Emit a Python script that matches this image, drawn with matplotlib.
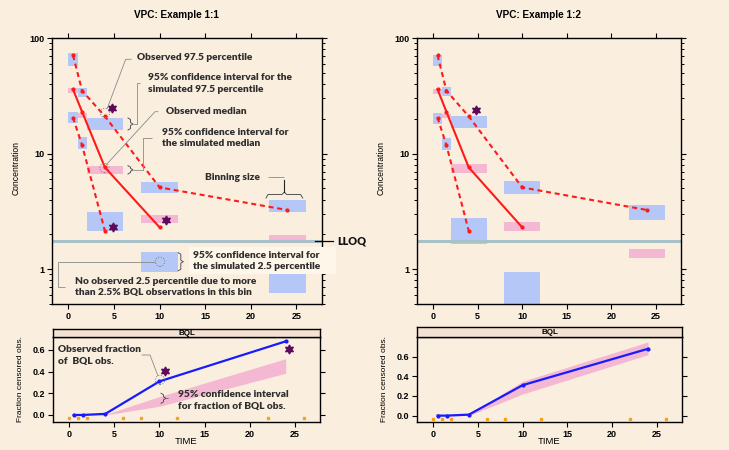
import numpy as np
import matplotlib
matplotlib.use("Agg")
import matplotlib.pyplot as plt
from matplotlib.ticker import LogLocator, NullFormatter, FixedLocator, FixedFormatter

plt.rcParams['font.family'] = ['Liberation Sans', 'DejaVu Sans']
plt.rcParams['font.weight'] = 'bold'

W, H = 729, 450

# ---- data ----
time = [0.5, 1.5, 4, 10, 24]
bin_lo = [0, 1, 2, 8, 22]
bin_hi = [1, 2, 6, 12, 26]
bin_edges = [0, 1, 2, 6, 8, 12, 22, 26]

obs_p975 = [71, 35, 21, 5.1, 3.25]
obs_p50 = [36, 23, 7.6, 2.3, np.nan]
obs_p025 = [20.5, 11.8, 2.15, np.nan, np.nan]
lloq = 1.74

# example 1:1 simulated CIs
ex1_p975_lo = [57.5, 31.0, 15.9, 4.58, 3.13]
ex1_p975_hi = [73.8, 37.3, 20.4, 5.67, 3.96]
ex1_p50_lo = [33.2, 20.2, 6.64, 2.52, 1.68]
ex1_p50_hi = [37.1, 22.3, 7.85, 2.92, 1.97]
ex1_p025_lo = [18.5, 10.9, 2.13, 0.95, 0.62]
ex1_p025_hi = [22.9, 14.0, 3.12, 1.41, 0.92]
ex1_out_x = [4.8, 10.7, 4.9]
ex1_out_y = [25, 2.65, 2.33]

# example 1:2 simulated CIs
ex2_p975_lo = [56.8, 31.6, 16.6, 4.46, 2.67]
ex2_p975_hi = [71.3, 37.9, 21.2, 5.8, 3.58]
ex2_p50_lo = [32.6, 20.4, 6.8, 2.14, 1.25]
ex2_p50_hi = [36.3, 22.0, 8.1, 2.57, 1.49]
ex2_p025_lo = [17.9, 10.7, 1.65, 0.3, np.nan]
ex2_p025_hi = [22.4, 13.6, 2.75, 0.95, np.nan]
ex2_out_x = [4.8]
ex2_out_y = [23.8]

# fraction BQL
frac_obs = [0, 0, 0.01, 0.31, 0.68]
ex1_frac_lo = [0, 0, 0, 0.08, 0.385]
ex1_frac_hi = [0, 0, 0.005, 0.17, 0.52]
ex1_frac_out_x = [10.6, 24.4]
ex1_frac_out_y = [0.41, 0.61]
ex2_frac_lo = [0, 0, 0, 0.22, 0.62]
ex2_frac_hi = [0, 0, 0.01, 0.35, 0.75]

# ---- colours ----
bg = '#FAEFDF'
c_blue_box = '#B4C7F6'
c_pink = '#F5B8D3'
c_red = '#FF1A1A'
c_blue = '#1A1AFF'
c_purple = '#5C0A5C'
c_lloq = '#A8C0C8'
c_orange = '#F5A21E'
c_strip = '#F3E1D3'
c_note = '#2E2E2E'
c_lead = '#8A8A8A'


def rect(l, t, r, b):
    return [l / W, 1 - b / H, (r - l) / W, (b - t) / H]


def boxes(ax, lo, hi, color):
    lo = np.array(lo, float)
    hi = np.array(hi, float)
    ok = ~np.isnan(lo)
    left = np.array(bin_lo)[ok]
    width = np.array(bin_hi)[ok] - left
    ax.bar(left, hi[ok] - lo[ok], bottom=lo[ok], width=width, align='edge',
           color=color, lw=0, zorder=1)


def conc_panel(ax, p975, p50, p025, out_x, out_y):
    ax.set_facecolor(bg)
    ax.set_yscale('log')
    boxes(ax, p975[0], p975[1], c_blue_box)
    boxes(ax, p025[0], p025[1], c_blue_box)
    boxes(ax, p50[0], p50[1], c_pink)
    ax.axhline(lloq, color=c_lloq, lw=2.2, zorder=2)
    dash = (0, (2.4, 1.8))
    ax.plot(time, obs_p975, color=c_red, lw=1.5, ls=dash, marker='o', ms=2, zorder=3)
    ax.plot(time, obs_p025, color=c_red, lw=1.5, ls=dash, marker='o', ms=2, zorder=3)
    ax.plot(time, obs_p50, color=c_red, lw=1.5, marker='o', ms=2, zorder=3)
    ax.plot(out_x, out_y, ls='none', marker=(6, 1, 0), ms=6.5, color=c_purple, zorder=4)
    ax.set_xlim(-1.8, 27.8)
    ax.set_ylim(0.5, 100)
    ax.yaxis.set_major_locator(FixedLocator([1, 10, 100]))
    ax.yaxis.set_major_formatter(FixedFormatter(['1', '10', '100']))
    ax.yaxis.set_minor_locator(LogLocator(base=10, subs=np.arange(2, 10)))
    ax.yaxis.set_minor_formatter(NullFormatter())
    ax.set_xticks([0, 5, 10, 15, 20, 25])
    ax.tick_params(direction='out', length=3.5, width=0.8, labelsize=6.5, pad=2,
                   top=True, right=True)
    ax.tick_params(which='minor', direction='out', length=2.2, width=0.7, right=True)
    ax.set_ylabel('Concentration', fontsize=6.2)
    ax.yaxis.set_label_coords(-0.117, 0.51)
    for s in ax.spines.values():
        s.set_linewidth(1.0)


def frac_panel(ax, strip, lo, hi, top, out_x=None, out_y=None):
    ax.set_facecolor(bg)
    ax.fill_between(time, lo, hi, color=c_pink, lw=0, zorder=1)
    ax.plot(time, frac_obs, color=c_blue, lw=1.6, marker='o', ms=2, zorder=3)
    if out_x is not None:
        ax.plot(out_x, out_y, ls='none', marker=(6, 1, 0), ms=6.5, color=c_purple, zorder=4)
    ax.plot(bin_edges, [-0.03] * len(bin_edges), ls='none', marker='s', ms=1.8,
            color=c_orange, zorder=2)
    ax.set_xlim(-1.8, 27.8)
    ax.set_ylim(-0.065, top)
    ax.set_yticks([0, 0.2, 0.4, 0.6])
    ax.set_yticklabels(['0.0', '0.2', '0.4', '0.6'])
    ax.set_xticks([0, 5, 10, 15, 20, 25])
    ax.tick_params(direction='out', length=3.5, width=0.8, labelsize=6.5, pad=2, right=True)
    ax.set_ylabel('Fraction censored obs.', fontsize=6)
    ax.yaxis.set_label_coords(-0.108, 0.5)
    ax.set_xlabel('TIME', fontsize=6.8)
    ax.xaxis.set_label_coords(0.5, -0.18)
    for s in ax.spines.values():
        s.set_linewidth(1.0)
    strip.set_facecolor(c_strip)
    strip.set_xticks([])
    strip.set_yticks([])
    for s in strip.spines.values():
        s.set_linewidth(1.0)
    strip.text(0.5, 0.45, 'BQL', ha='center', va='center', fontsize=5.8)


fig = plt.figure(figsize=(W / 100, H / 100), dpi=100)
fig.patch.set_facecolor(bg)

ax1 = fig.add_axes(rect(52, 38, 322, 304))
ax2 = fig.add_axes(rect(417, 38, 681, 304))
conc_panel(ax1, (ex1_p975_lo, ex1_p975_hi), (ex1_p50_lo, ex1_p50_hi),
           (ex1_p025_lo, ex1_p025_hi), ex1_out_x, ex1_out_y)
conc_panel(ax2, (ex2_p975_lo, ex2_p975_hi), (ex2_p50_lo, ex2_p50_hi),
           (ex2_p025_lo, ex2_p025_hi), ex2_out_x, ex2_out_y)

ax3 = fig.add_axes(rect(53, 337, 320, 422))
st3 = fig.add_axes(rect(53, 329, 320, 337))
ax4 = fig.add_axes(rect(417, 337, 682, 422))
st4 = fig.add_axes(rect(417, 327, 682, 337))
frac_panel(ax3, st3, ex1_frac_lo, ex1_frac_hi, 0.72, ex1_frac_out_x, ex1_frac_out_y)
frac_panel(ax4, st4, ex2_frac_lo, ex2_frac_hi, 0.80)

fig.text(176 / W, 1 - 15 / H, 'VPC: Example 1:1', ha='center', va='center', fontsize=7.2)
fig.text(538 / W, 1 - 15 / H, 'VPC: Example 1:2', ha='center', va='center', fontsize=7.2)

# ---- annotation overlay, in pixel units ----
ov = fig.add_axes([0, 0, 1, 1])
ov.set_xlim(0, W)
ov.set_ylim(H, 0)
ov.axis('off')
ov.patch.set_alpha(0)

note = dict(family=['Lato', 'DejaVu Sans'], fontweight='heavy', fontsize=7.3,
            color=c_note, va='center', ha='left')


def lead(xs, ys, color=c_lead, lw=0.6):
    ov.plot(xs, ys, color=color, lw=lw, solid_capstyle='butt')


def brace_v(x, y0, y1):
    ym = (y0 + y1) / 2
    ov.plot([x, x + 2.5, x + 2.5, x + 5, x + 2.5, x + 2.5, x],
            [y0, y0 + 1.5, ym - 1.5, ym, ym + 1.5, y1 - 1.5, y1],
            color='#555555', lw=0.7)
    return x + 5, ym


def ring(x, y):
    ov.scatter([x], [y], s=45, facecolors='none', edgecolors='#777777',
               linestyles=':', linewidths=0.7)


# observed 97.5 percentile
ring(105, 113)
lead([107, 125.7, 131.7], [109, 59.3, 59.3])
ov.text(136.7, 57.7, 'Observed 97.5 percentile', **note)

# CI 97.5
bx, by = brace_v(128, 118, 130)
lead([bx, 137, 137, 140], [by, by, 83, 83])
ov.text(148.3, 77.7, '95% confidence interval for the', **note)
ov.text(148.3, 90, 'simulated 97.5 percentile', **note)

# observed median
ring(104.5, 168)
lead([106, 155, 158.3], [165, 111.7, 111.7])
ov.text(165.7, 111.7, 'Observed median', **note)

# CI median
bx, by = brace_v(128, 165.7, 174)
lead([bx, 142.7, 142.7, 151.7], [by, by, 138.3, 138.3])
ov.text(162.3, 132.7, '95% confidence interval for', **note)
ov.text(162.3, 144, 'the simulated median', **note)

# binning size
ov.plot([266, 268, 282, 284.3, 286.6, 300.6, 302.7],
        [198, 194.5, 194.5, 192, 194.5, 194.5, 198], color='#555555', lw=0.7)
ov.plot([284.3, 284.3], [192, 180], color='#222222', lw=0.8)
lead([284.3, 268.3], [177.3, 177.3])
ov.text(205, 177.7, 'Binning size', **note)

# LLOQ
ov.plot([315, 333], [240.7, 240.7], color='black', lw=0.9)
ov.text(337, 240.7, 'LLOQ', **dict(note, fontsize=7.8, color='#111111'))

# CI 2.5
ov.add_patch(plt.Rectangle((189, 247), 147, 27, color='#FDF6E9', lw=0, zorder=0))
ring(160, 261.7)
bx, by = brace_v(178.3, 252.7, 270.7)
lead([155.5, 58.3, 58.3, 65], [261.7, 261.7, 286.7, 286.7])
ov.text(193.3, 255, '95% confidence interval for', **note)
ov.text(193.3, 266.7, 'the simulated 2.5 percentile', **note)
ov.text(75, 282, 'No observed 2.5 percentile due to more', **note)
ov.text(75, 293, 'than 2.5% BQL observations in this bin', **note)

# fraction BQL notes
ring(160, 380)
lead([141.7, 150, 158], [355, 355, 376])
ov.text(58.3, 350, 'Observed fraction', **note)
ov.text(58.3, 361.7, 'of  BQL obs.', **note)
bx, by = brace_v(161, 393.3, 403.3)
lead([bx, 168.3], [by, by], color='#555555')
ov.text(178.3, 394.3, '95% confidence interval', **note)
ov.text(178.3, 406.7, 'for fraction of BQL obs.', **note)

fig.savefig('out.png', dpi=100, facecolor=bg)
